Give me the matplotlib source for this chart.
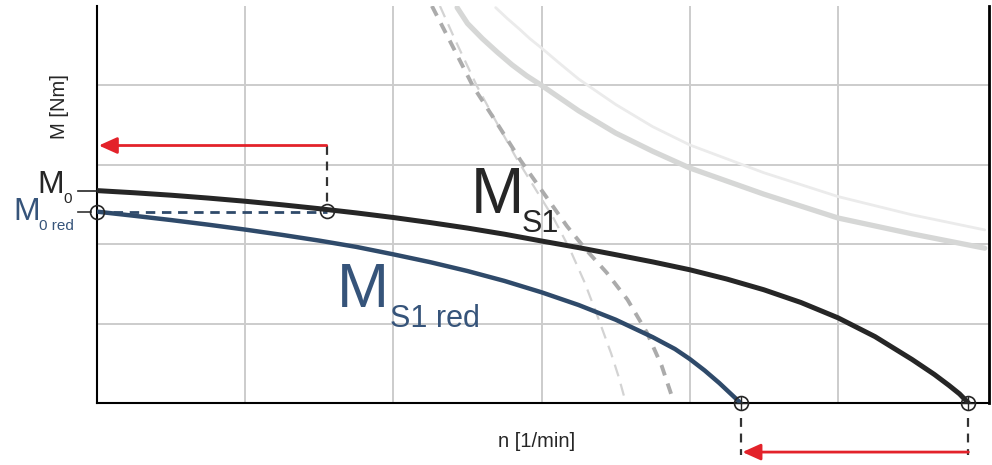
import matplotlib
matplotlib.use("Agg")
import matplotlib.pyplot as plt
from matplotlib.patches import FancyArrowPatch, ArrowStyle

plt.rcParams['font.family'] = ['Liberation Sans', 'DejaVu Sans']

# --- characteristic curves (n and M in grid units) ---
# continuous torque M_S1
ms1_n = [0, 0.25, 0.5, 0.75, 1.0, 1.25, 1.5, 1.75, 2.0, 2.25, 2.5, 2.75, 3.0, 3.25,
         3.5, 3.75, 4.0, 4.25, 4.5, 4.75, 5.0, 5.25, 5.5, 5.65, 5.75, 5.82, 5.88]
ms1_m = [2.675, 2.648, 2.617, 2.581, 2.541, 2.496, 2.447, 2.394, 2.336, 2.272, 2.203,
         2.126, 2.04, 1.957, 1.868, 1.777, 1.678, 1.561, 1.426, 1.266, 1.073, 0.836,
         0.548, 0.36, 0.22, 0.115, 0]

# reduced continuous torque M_S1 red
ms1red_n = [0, 0.25, 0.5, 0.75, 1.0, 1.25, 1.5, 1.75, 2.0, 2.25, 2.5, 2.75, 3.0, 3.25,
            3.5, 3.75, 3.9, 4.0, 4.1, 4.2, 4.28, 4.343]
ms1red_m = [2.41, 2.358, 2.304, 2.246, 2.184, 2.117, 2.045, 1.966, 1.872, 1.773, 1.662,
            1.537, 1.394, 1.234, 1.049, 0.829, 0.68, 0.554, 0.41, 0.25, 0.11, 0]

# voltage limit curves (dashed)
ulim_dark_n = [2.26, 2.37, 2.537, 2.70, 2.86, 3.03, 3.17, 3.30, 3.44, 3.58, 3.71, 3.81, 3.88]
ulim_dark_m = [5.0, 4.6, 3.99, 3.52, 3.05, 2.60, 2.23, 1.93, 1.64, 1.30, 0.89, 0.47, 0.08]
ulim_light_n = [2.314, 2.42, 2.564, 2.70, 2.834, 2.96, 3.08, 3.19, 3.29, 3.38, 3.47, 3.52, 3.563]
ulim_light_m = [5.0, 4.56, 3.99, 3.52, 3.07, 2.69, 2.33, 1.94, 1.52, 1.08, 0.62, 0.33, 0.04]

# power hyperbolas (light grey)
pwr_thick_n = [2.43, 2.5, 2.6, 2.7, 2.8, 2.9, 3.0, 3.25, 3.5, 3.75, 4.0, 4.5, 5.0, 5.5, 5.99]
pwr_thick_m = [4.98, 4.78, 4.59, 4.42, 4.26, 4.12, 4.00, 3.68, 3.40, 3.17, 2.96, 2.63,
               2.33, 2.13, 1.95]
pwr_thin_n = [2.69, 2.77, 2.85, 2.92, 3.0, 3.12, 3.25, 3.5, 3.75, 4.0, 4.5, 5.0, 5.5, 5.99]
pwr_thin_m = [4.98, 4.84, 4.71, 4.59, 4.47, 4.28, 4.08, 3.76, 3.48, 3.25, 2.90, 2.60,
              2.37, 2.18]

# reference values
M0 = ms1_m[0]
M0_red = ms1red_m[0]
n_red_point = 1.55        # speed where M_S1 drops to M0 red
n_max = ms1_n[-1]
n_max_red = ms1red_n[-1]
arrow_top_m = 3.243
arrow_bottom_m = -0.618

BLACK = '#262626'
BLUE = '#2f4a6a'
BLUE_TXT = '#36547a'
RED = '#e3222a'

fig = plt.figure(figsize=(9.92, 4.65), dpi=100)
ax = fig.add_axes([97 / 992, 62 / 465, 892 / 992, 397 / 465])
ax.set_xlim(0, 6.019)
ax.set_ylim(0, 5.0)

ax.set_xticks([1, 2, 3, 4, 5])
ax.set_yticks([1, 2, 3, 4])
ax.tick_params(length=0, labelbottom=False, labelleft=False)
ax.grid(True, color='#cccccc', lw=1.4, zorder=0)
ax.set_axisbelow(True)

ax.spines['top'].set_visible(False)
ax.spines['left'].set_linewidth(1.5)
ax.spines['bottom'].set_linewidth(1.5)
ax.spines['right'].set_linewidth(2.0)
for s in ['left', 'bottom', 'right']:
    ax.spines[s].set_color('black')

# power hyperbolas
ax.plot(pwr_thin_n, pwr_thin_m, color='#ebebeb', lw=2.0, solid_capstyle='round', zorder=2)
ax.plot(pwr_thick_n, pwr_thick_m, color='#d6d7d6', lw=3.8, solid_capstyle='round', zorder=2)

# voltage limit curves
ax.plot(ulim_light_n, ulim_light_m, color='#d3d3d3', lw=1.6, ls=(0, (5.5, 3.5)), zorder=3)
ax.plot(ulim_dark_n, ulim_dark_m, color='#ababab', lw=2.8, ls=(0, (2.8, 2.2)), zorder=3)

# torque curves
ax.plot(ms1_n, ms1_m, color=BLACK, lw=3.6, zorder=5, solid_capstyle='round')
ax.plot(ms1red_n, ms1red_m, color=BLUE, lw=3.2, zorder=5, solid_capstyle='round')

# dashed construction lines
ax.plot([0, n_red_point], [M0_red, M0_red], color=BLUE, lw=2.0, ls=(0, (3.4, 2.4)), zorder=4)
ax.plot([n_red_point, n_red_point], [arrow_top_m, M0_red + 0.09], color='#333333', lw=1.6,
        ls=(0, (4.0, 3.0)), zorder=4)
for nx in (n_max_red, n_max):
    ax.plot([nx, nx], [-0.19, arrow_bottom_m - 0.04], color='#333333', lw=1.6,
            ls=(0, (4.0, 3.0)), zorder=4, clip_on=False)

# tick marks for M0 and M0 red
ax.plot([-0.128, 0], [M0, M0], color=BLACK, lw=1.2, clip_on=False, zorder=6)
ax.plot([-0.128, -0.04], [M0_red, M0_red], color='#333333', lw=1.2, clip_on=False, zorder=6)

# operating point markers
pts_n = [0, n_red_point, n_max_red, n_max]
pts_m = [M0_red, M0_red + 0.005, 0, 0]
ax.plot(pts_n, pts_m, ls='none', marker='o', ms=10, mfc='none', mec=BLACK, mew=1.2,
        clip_on=False, zorder=8)
ax.plot([n_max_red, n_max], [0, 0], ls='none', marker='+', ms=10, mec=BLACK, mew=1.0,
        clip_on=False, zorder=8)

# red arrows
style = ArrowStyle('-|>', head_length=1.0, head_width=0.45)
for (x0, x1, y) in [(n_red_point, 0.012, arrow_top_m), (n_max, n_max_red + 0.012, arrow_bottom_m)]:
    arr = FancyArrowPatch((x0, y), (x1, y), arrowstyle=style, mutation_scale=11,
                          color=RED, lw=2.0, shrinkA=0, shrinkB=0, clip_on=False, zorder=7)
    ax.add_patch(arr)

# curve labels
ax.text(2.523, 2.397, 'M', fontsize=46, color=BLACK, ha='left', va='baseline', zorder=9)
ax.text(2.864, 2.158, 'S1', fontsize=22, color=BLACK, ha='left', va='baseline', zorder=9)
ax.text(1.62, 1.211, 'M', fontsize=45, color=BLUE_TXT, ha='left', va='baseline', zorder=9)
ax.text(1.974, 0.959, 'S1 red', fontsize=22, color=BLUE_TXT, ha='left', va='baseline', zorder=9)

# M0 labels at the torque axis
ax.text(-0.405, 2.65, 'M', fontsize=23, color=BLACK, ha='left', va='baseline', clip_on=False)
ax.text(-0.229, 2.524, '0', fontsize=11, color=BLACK, ha='left', va='baseline', clip_on=False)
ax.text(-0.567, 2.309, 'M', fontsize=23, color=BLUE_TXT, ha='left', va='baseline', clip_on=False)
ax.text(-0.391, 2.183, '0 red', fontsize=11, color=BLUE_TXT, ha='left', va='baseline', clip_on=False)

# axis titles
ax.text(-0.255, 3.735, 'M [Nm]', fontsize=14.5, rotation=90, ha='center', va='center', color=BLACK)
ax.text(2.969, -0.48, 'n [1/min]', fontsize=14.5, ha='center', va='center', color=BLACK)

fig.savefig('out.png', dpi=100)
